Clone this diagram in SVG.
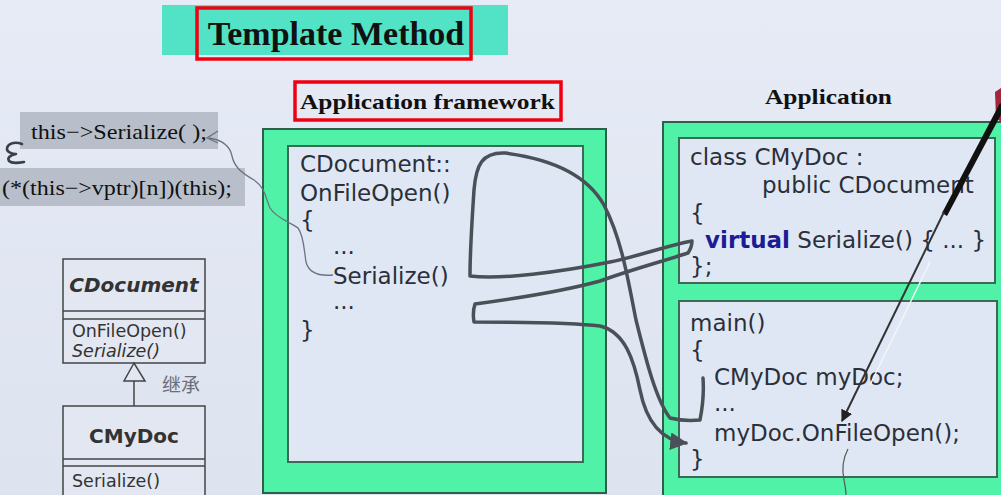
<svg xmlns="http://www.w3.org/2000/svg" width="1001" height="495" viewBox="0 0 1001 495">
<defs>
<linearGradient id="bg" x1="0" y1="0" x2="0" y2="1">
<stop offset="0" stop-color="#e6ebf6"/>
<stop offset="1" stop-color="#dde3ef"/>
</linearGradient>
<marker id="ah" viewBox="0 0 10 10" refX="9" refY="5" markerWidth="5" markerHeight="5" orient="auto" markerUnits="strokeWidth">
<path d="M0,0 L10,5 L0,10 z" fill="#4a5058"/>
</marker>
<marker id="ah2" viewBox="0 0 10 10" refX="9" refY="5" markerWidth="6" markerHeight="6" orient="auto" markerUnits="strokeWidth">
<path d="M0,0 L10,5 L0,10 z" fill="#222"/>
</marker>
</defs>
<style>
.serif{font-family:"Liberation Serif","Times New Roman",serif;fill:#111;}
.code{font-family:"DejaVu Sans",Verdana,sans-serif;font-size:23px;fill:#2a2f3a;}
.uml{font-family:"DejaVu Sans",Verdana,sans-serif;fill:#333;}
.outer{fill:#50f2a8;stroke:#2f5f4a;stroke-width:2;}
.inner{fill:#e0e7f4;stroke:#3b6a55;stroke-width:2;}
.umlbox{fill:#e2e7f1;stroke:#444;stroke-width:1.5;}
.red{fill:none;stroke:#f00010;stroke-width:3.5;}
.hand{fill:none;stroke:#4a5058;stroke-width:3.5;stroke-linecap:round;stroke-linejoin:round;}
.thin{fill:none;stroke:#6b7280;stroke-width:1.3;}
</style>
<rect width="1001" height="495" fill="url(#bg)"/>

<g id="title">
<rect x="162" y="5" width="346" height="50" fill="#52e3c6"/>
<rect x="197" y="8" width="274" height="51" class="red"/>
<text x="336" y="45" class="serif" font-size="34" font-weight="bold" text-anchor="middle">Template Method</text>
</g>

<g id="framework-label">
<rect x="295" y="82" width="266" height="38" class="red" fill="#e6ebf6"/>
<text x="300" y="109" class="serif" font-size="21" font-weight="bold" textLength="255" lengthAdjust="spacingAndGlyphs">Application framework</text>
</g>

<g id="application-label">
<text x="765" y="104" class="serif" font-size="21" font-weight="bold" textLength="127" lengthAdjust="spacingAndGlyphs">Application</text>
</g>

<g id="vcall">
<rect x="20" y="112" width="198" height="37" fill="#b9bfca"/>
<text x="31" y="139" class="serif" font-size="21" textLength="176" lengthAdjust="spacingAndGlyphs">this−&gt;Serialize( );</text>
<rect x="0" y="168" width="245" height="38" fill="#b9bfca"/>
<text x="2" y="195" class="serif" font-size="21" textLength="230" lengthAdjust="spacingAndGlyphs">(*(this−&gt;vptr)[n])(this);</text>
<path d="M22,144 C14,141 7,144 7,149 C7,152 12,154 16,154 C10,155 7,158 9,161 C12,164 18,163 24,162" fill="none" stroke="#3a3f48" stroke-width="2.6" stroke-linecap="round" stroke-linejoin="round"/>
</g>

<g id="uml-cdocument">
<rect x="63" y="259" width="142" height="104" class="umlbox"/>
<line x1="63" y1="311" x2="205" y2="311" stroke="#444" stroke-width="1.5"/>
<line x1="63" y1="319" x2="205" y2="319" stroke="#444" stroke-width="1.5"/>
<text x="134" y="292" class="uml" font-size="20" font-weight="bold" font-style="italic" text-anchor="middle" fill="#111">CDocument</text>
<text x="72" y="337" class="uml" font-size="17.5">OnFileOpen()</text>
<text x="72" y="357" class="uml" font-size="17.5" font-style="italic">Serialize()</text>
</g>

<g id="uml-inherit">
<line x1="134" y1="381" x2="134" y2="406" stroke="#444" stroke-width="1.5"/>
<path d="M134,363 L124,381 L145,381 z" fill="#e2e7f1" stroke="#444" stroke-width="1.5"/>
<text x="162" y="392" font-family="'Noto Sans CJK SC',sans-serif" font-size="19" fill="#6a6f78">继承</text>
</g>

<g id="uml-cmydoc">
<rect x="63" y="406" width="142" height="100" class="umlbox"/>
<line x1="63" y1="459" x2="205" y2="459" stroke="#444" stroke-width="1.5"/>
<line x1="63" y1="466" x2="205" y2="466" stroke="#444" stroke-width="1.5"/>
<text x="134" y="443" class="uml" font-size="20" font-weight="bold" text-anchor="middle" fill="#111">CMyDoc</text>
<text x="72" y="487" class="uml" font-size="17.5">Serialize()</text>
</g>

<g id="framework">
<rect x="263" y="129" width="343" height="364" class="outer"/>
<rect x="288" y="146" width="295" height="316" class="inner"/>
<text class="code">
<tspan x="300" y="172">CDocument::</tspan>
<tspan x="300" y="201">OnFileOpen()</tspan>
<tspan x="300" y="228">{</tspan>
<tspan x="333" y="254">...</tspan>
<tspan x="333" y="284">Serialize()</tspan>
<tspan x="333" y="309">...</tspan>
<tspan x="300" y="338">}</tspan>
</text>
</g>

<g id="app">
<rect x="663" y="122" width="345" height="380" class="outer"/>
</g>
<g id="app-class">
<rect x="679" y="138" width="316" height="145" class="inner"/>
<text class="code">
<tspan x="690" y="165">class CMyDoc :</tspan>
<tspan x="762" y="193">public CDocument</tspan>
<tspan x="690" y="221">{</tspan>
<tspan x="705" y="248"><tspan font-weight="bold" fill="#1c1c96">virtual</tspan> Serialize() { ... }</tspan>
<tspan x="690" y="274">};</tspan>
</text>
</g>
<g id="app-main">
<rect x="679" y="301" width="318" height="176" class="inner"/>
<text class="code">
<tspan x="690" y="331">main()</tspan>
<tspan x="690" y="358">{</tspan>
<tspan x="714" y="385">CMyDoc myDoc;</tspan>
<tspan x="714" y="411">...</tspan>
<tspan x="714" y="441">myDoc.OnFileOpen();</tspan>
<tspan x="690" y="467">}</tspan>
</text>
</g>

<g id="connectors">
<path class="thin" d="M218,131 L207,138 L218,143 M209,138 C222,140 230,146 232,156 C234,166 240,172 254,180 C266,188 266,200 270,208 C276,218 290,222 298,228 C304,236 304,250 306,262 C309,274 322,276 333,275"/>
<path class="hand" d="M703,378 C704,392 702,410 700,420 C690,421 678,420 670,418 C656,400 646,360 636,320 C628,280 622,240 604,205 C590,180 560,160 505,153 C482,152 476,165 474,190 C472,220 470,250 470,276 C500,280 560,272 610,262 C640,256 665,246 692,241 C692,246 690,250 688,253 C660,262 630,270 600,281 C560,292 520,298 475,304 C473,310 473,316 474,322 C520,322 570,322 600,326 C625,332 634,360 640,390 C646,420 660,440 686,443" marker-end="url(#ah)"/>
</g>

<g id="pointer">
<path d="M995,92 L1001,88 L1001,122 L996,118 z" fill="#a0283a"/>
<path d="M1000,103 L1005,107 L947,216 L942,213 z" fill="#111"/>
<line x1="944" y1="212" x2="842" y2="421" stroke="#333" stroke-width="2" marker-end="url(#ah2)"/>
<line x1="930" y1="262" x2="870" y2="385" stroke="#f4f6fa" stroke-width="1.5"/>
<path d="M848,449 C842,460 842,470 844,480 C845,486 846,490 846,495" fill="none" stroke="#555" stroke-width="1.2"/>
</g>
</svg>
